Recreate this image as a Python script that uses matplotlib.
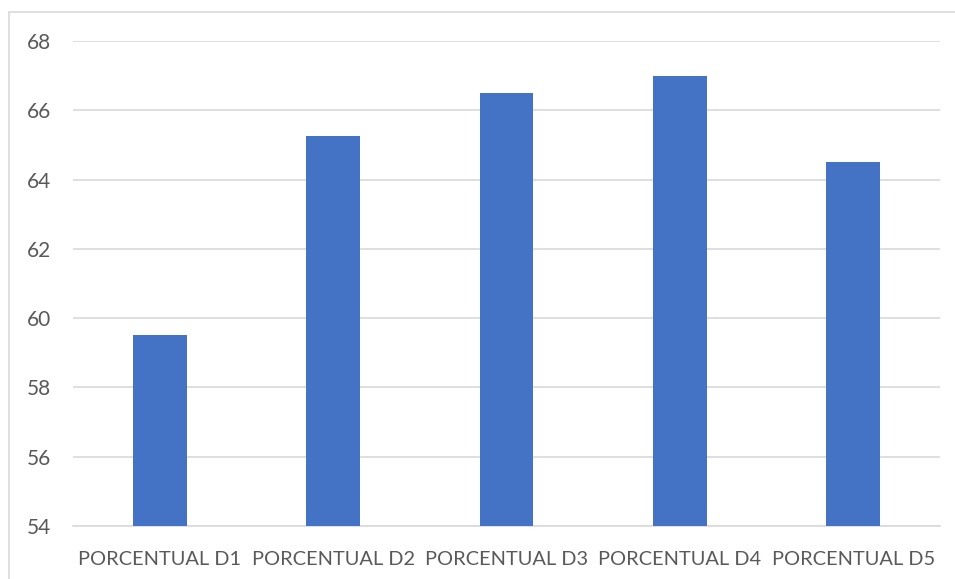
import matplotlib.pyplot as plt
from matplotlib.patches import Rectangle

categories = ["PORCENTUAL D1", "PORCENTUAL D2", "PORCENTUAL D3", "PORCENTUAL D4", "PORCENTUAL D5"]
values = [59.5, 65.25, 66.5, 67.0, 64.5]
y_ticks = [54, 56, 58, 60, 62, 64, 66, 68]

plt.rcParams['font.family'] = ['Lato', 'DejaVu Sans']

fig = plt.figure(figsize=(9.55, 5.79), dpi=100)
ax = fig.add_axes([73 / 955, 1 - 526 / 579, 867 / 955, 485 / 579])

# outer chart frame (cut off at right and bottom like the source)
fig.patches.append(Rectangle((9 / 955, -0.05), 1.1, 1 - 12 / 579 + 0.05,
                             transform=fig.transFigure, fill=False,
                             edgecolor="#D9D9D9", linewidth=1.2))

x = range(len(categories))
ax.bar(x, values, width=0.31, color="#4472C4", zorder=3)

ax.set_xlim(-0.5, len(categories) - 0.5)
ax.set_ylim(54, 68)
ax.set_yticks(y_ticks)
ax.set_xticks(list(x))
ax.set_xticklabels(categories)
ax.grid(axis="y", color="#D9D9D9", linewidth=1.2, zorder=0)

for s in ["top", "right", "left"]:
    ax.spines[s].set_visible(False)
ax.spines["bottom"].set_color("#D9D9D9")
ax.spines["bottom"].set_linewidth(1.2)

ax.tick_params(axis="both", length=0, labelcolor="#595959")
ax.tick_params(axis="x", labelsize=14.4, pad=18)
ax.tick_params(axis="y", labelsize=15, pad=16)

fig.savefig("out.png", dpi=100)
